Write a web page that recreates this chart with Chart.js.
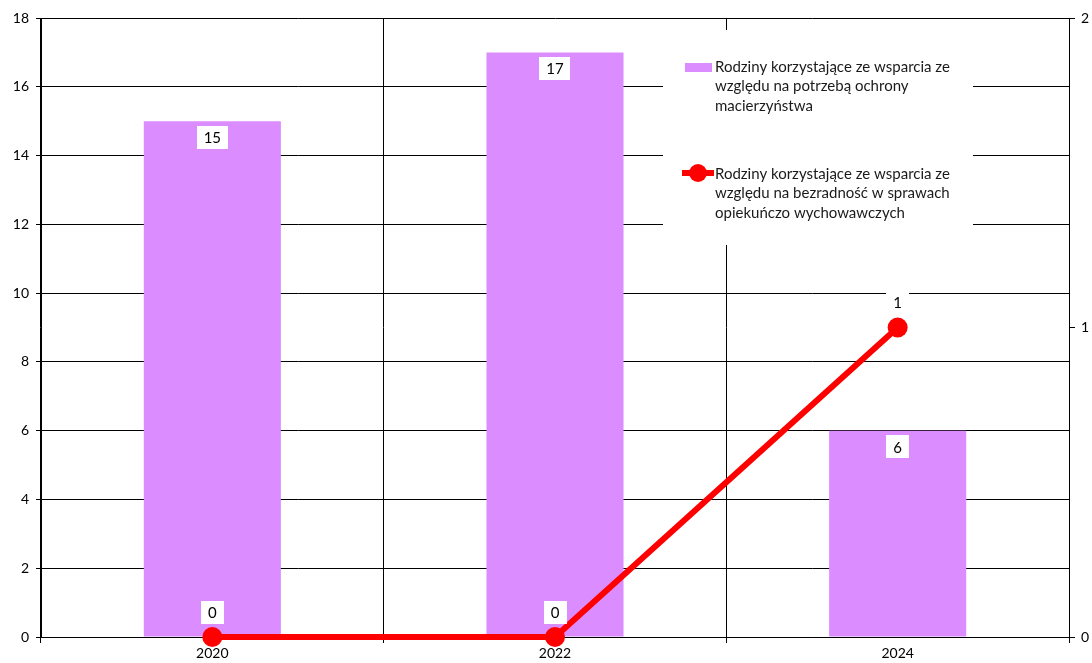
<!DOCTYPE html>
<html lang="pl">
<head>
<meta charset="utf-8">
<title>Rodziny korzystające ze wsparcia</title>
<script src="https://cdn.jsdelivr.net/npm/chart.js@4.4.1/dist/chart.umd.min.js"></script>
<style>
  html, body { margin: 0; padding: 0; background: #fff; overflow: hidden; }
  #wrap { width: 1100px; height: 663px; }
</style>
</head>
<body>
<div id="wrap"><canvas id="supportChart" width="1100" height="663"></canvas></div>
<script>
const years = ['2020', '2022', '2024'];
const maternityFamilies = [15, 17, 6];
const helplessnessFamilies = [0, 0, 1];
const maternityLabel = ['Rodziny korzystające ze wsparcia ze', 'względu na potrzebą ochrony', 'macierzyństwa'];
const helplessnessLabel = ['Rodziny korzystające ze wsparcia ze', 'względu na bezradność w sprawach', 'opiekuńczo wychowawczych'];

const FONT = 'Lato, "Open Sans", sans-serif';
const BAR_COLOR = '#DB8CFF';
const LINE_COLOR = '#FF0000';

// small white box with the value in it
function boxedText(ctx, text, x, y) {
    const w = ctx.measureText(text).width + 14;
    const h = 23;
    ctx.fillStyle = '#fff';
    ctx.fillRect(Math.round(x - w / 2), Math.round(y - h / 2), Math.round(w), h);
    ctx.fillStyle = '#000';
    ctx.fillText(text, x, y + 1);
}

const valueLabels = {
    id: 'valueLabels',
    afterDatasetsDraw(chart) {
        const ctx = chart.ctx;
        ctx.save();
        ctx.font = '15px ' + FONT;
        ctx.textAlign = 'center';
        ctx.textBaseline = 'middle';
        // dataset 0 is the line, dataset 1 the bars
        chart.getDatasetMeta(1).data.forEach((bar, i) => {
            boxedText(ctx, String(maternityFamilies[i]), bar.x, bar.y + 16);
        });
        chart.getDatasetMeta(0).data.forEach((pt, i) => {
            boxedText(ctx, String(helplessnessFamilies[i]), pt.x, pt.y - 25);
        });
        ctx.restore();
    }
};

// legend sits inside the plot, on a white panel
const sideLegend = {
    id: 'sideLegend',
    afterDraw(chart) {
        const ctx = chart.ctx;
        const area = chart.chartArea;
        const left = area.right - 406;
        const top = area.top + 12;
        ctx.save();
        ctx.fillStyle = '#fff';
        ctx.fillRect(left, top, 310, 215);

        ctx.font = '15px ' + FONT;
        ctx.textAlign = 'left';
        ctx.textBaseline = 'middle';

        ctx.fillStyle = BAR_COLOR;
        ctx.fillRect(left + 22, top + 33, 27, 9);
        ctx.fillStyle = '#1a1a1a';
        maternityLabel.forEach((line, i) => ctx.fillText(line, left + 52, top + 37 + i * 19.5));

        const ly = top + 143;
        ctx.strokeStyle = LINE_COLOR;
        ctx.lineWidth = 6;
        ctx.beginPath();
        ctx.moveTo(left + 19, ly);
        ctx.lineTo(left + 51, ly);
        ctx.stroke();
        ctx.fillStyle = LINE_COLOR;
        ctx.beginPath();
        ctx.arc(left + 35, ly, 9, 0, Math.PI * 2);
        ctx.fill();
        ctx.fillStyle = '#1a1a1a';
        helplessnessLabel.forEach((line, i) => ctx.fillText(line, left + 52, ly + 1 + i * 19.5));
        ctx.restore();
    }
};

const ctx = document.getElementById('supportChart').getContext('2d');

new Chart(ctx, {
    type: 'bar',
    data: {
        labels: years,
        datasets: [{
            type: 'line',
            label: helplessnessLabel.join(' '),
            data: helplessnessFamilies,
            yAxisID: 'y1',
            order: 0,
            borderColor: LINE_COLOR,
            backgroundColor: LINE_COLOR,
            borderWidth: 6,
            pointRadius: 10,
            pointBorderWidth: 0,
            pointBackgroundColor: LINE_COLOR,
            tension: 0,
            clip: false
        }, {
            type: 'bar',
            label: maternityLabel.join(' '),
            data: maternityFamilies,
            yAxisID: 'y',
            order: 1,
            backgroundColor: BAR_COLOR,
            barPercentage: 0.4,
            categoryPercentage: 1.0
        }]
    },
    options: {
        responsive: false,
        animation: false,
        layout: { padding: { top: 18, left: 0, right: 0, bottom: 0 } },
        plugins: {
            legend: { display: false },
            tooltip: { enabled: false }
        },
        scales: {
            x: {
                offset: true,
                grid: { color: '#000', offset: true, tickLength: 6, lineWidth: 1 },
                border: { color: '#000' },
                ticks: { color: '#000', font: { family: FONT, size: 14 }, padding: 2 },
                afterFit(scale) { scale.height = 26; }
            },
            y: {
                position: 'left',
                min: 0,
                max: 18,
                grid: { color: '#000', tickLength: 5 },
                border: { color: '#000' },
                ticks: { stepSize: 2, color: '#000', font: { family: FONT, size: 14 }, padding: 7 },
                afterFit(scale) { scale.width = 41; }
            },
            y1: {
                position: 'right',
                min: 0,
                max: 2,
                grid: { drawOnChartArea: false, color: '#000', tickLength: 6 },
                border: { color: '#000' },
                ticks: { stepSize: 1, color: '#000', font: { family: FONT, size: 14 }, padding: 6 },
                afterFit(scale) { scale.width = 31; }
            }
        }
    },
    plugins: [valueLabels, sideLegend]
});
</script>
</body>
</html>
